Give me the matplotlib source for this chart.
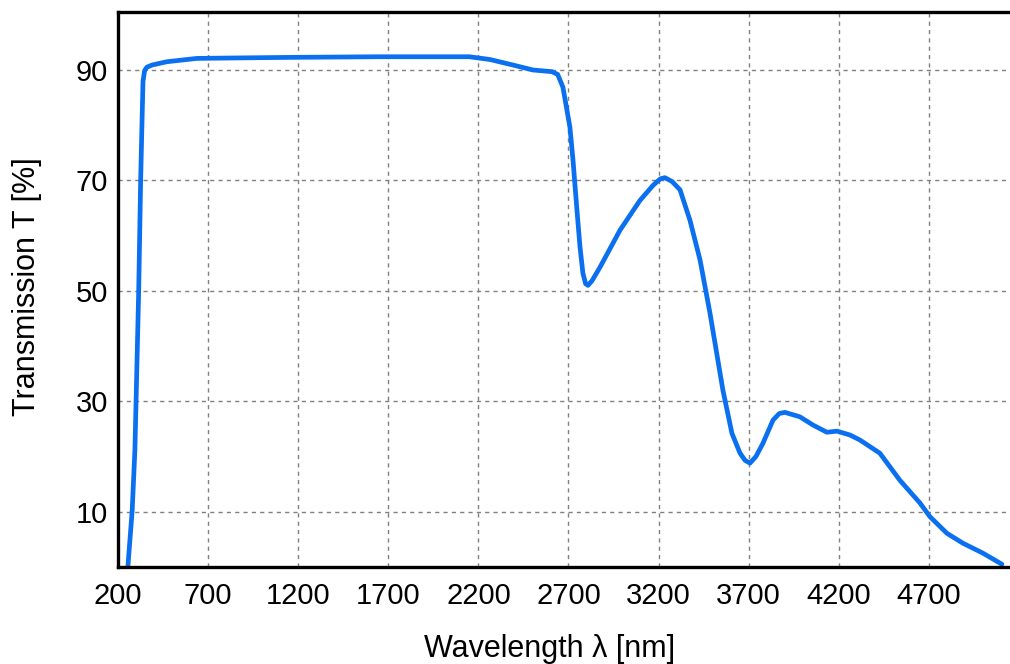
import matplotlib.pyplot as plt

# transmission curve
wavelength = [255, 279, 294, 315, 326, 333, 339, 348, 360, 389, 472, 638, 900, 1200,
              1650, 2150, 2264, 2392, 2503, 2608, 2640, 2669, 2690, 2708, 2725, 2747,
              2764, 2780, 2795, 2808, 2830, 2875, 2986, 3097, 3169, 3210, 3235, 3275,
              3319, 3374, 3430, 3485, 3557, 3607, 3652, 3680, 3707, 3740, 3779, 3835,
              3870, 3901, 3984, 4057, 4134, 4190, 4262, 4317, 4428, 4539, 4650, 4706,
              4800, 4889, 5000, 5105]
transmission = [0, 10.3, 21.2, 50, 70.2, 80, 88.0, 89.9, 90.5, 90.9, 91.5, 92.1, 92.2,
                92.3, 92.4, 92.4, 91.9, 90.9, 90.0, 89.7, 89.2, 86.9, 83.0, 79.6, 73.7,
                64.6, 57.9, 53.2, 51.3, 51.0, 51.8, 54.3, 61.0, 66.4, 69.1, 70.3, 70.5,
                69.8, 68.3, 62.8, 55.6, 46.0, 32.0, 24.2, 20.6, 19.3, 18.8, 20.0, 22.4,
                26.6, 27.8, 28.0, 27.2, 25.7, 24.4, 24.6, 23.9, 23.0, 20.6, 15.7, 11.6,
                9.1, 6.1, 4.3, 2.5, 0.5]

x_ticks = [200, 700, 1200, 1700, 2200, 2700, 3200, 3700, 4200, 4700]
y_ticks = [10, 30, 50, 70, 90]

plt.rcParams['font.family'] = ['Liberation Sans', 'DejaVu Sans']

fig = plt.figure(figsize=(10.1, 6.64), dpi=100)
ax = fig.add_axes([0.1168, 0.1461, 0.8832, 0.8358])

ax.plot(wavelength, transmission, color='#0a70f0', lw=3.4,
        solid_capstyle='round', solid_joinstyle='round')

ax.set_xlim(200, 5150)
ax.set_ylim(0, 100.5)
ax.set_xticks(x_ticks)
ax.set_yticks(y_ticks)
ax.tick_params(axis='both', length=0, labelsize=21)
ax.tick_params(axis='x', pad=11)
ax.tick_params(axis='y', pad=7)

ax.grid(True, color='#808080', linestyle=(0, (3, 3)), linewidth=1)
for side in ['left', 'top', 'bottom']:
    ax.spines[side].set_linewidth(2.4)
ax.spines['right'].set_visible(False)

ax.set_xlabel('Wavelength λ [nm]', fontsize=22)
ax.set_ylabel('Transmission T [%]', fontsize=22)
ax.xaxis.set_label_coords(0.484, -0.121)
ax.yaxis.set_label_coords(-0.085, 0.5045)

plt.savefig('out.png', dpi=100)
